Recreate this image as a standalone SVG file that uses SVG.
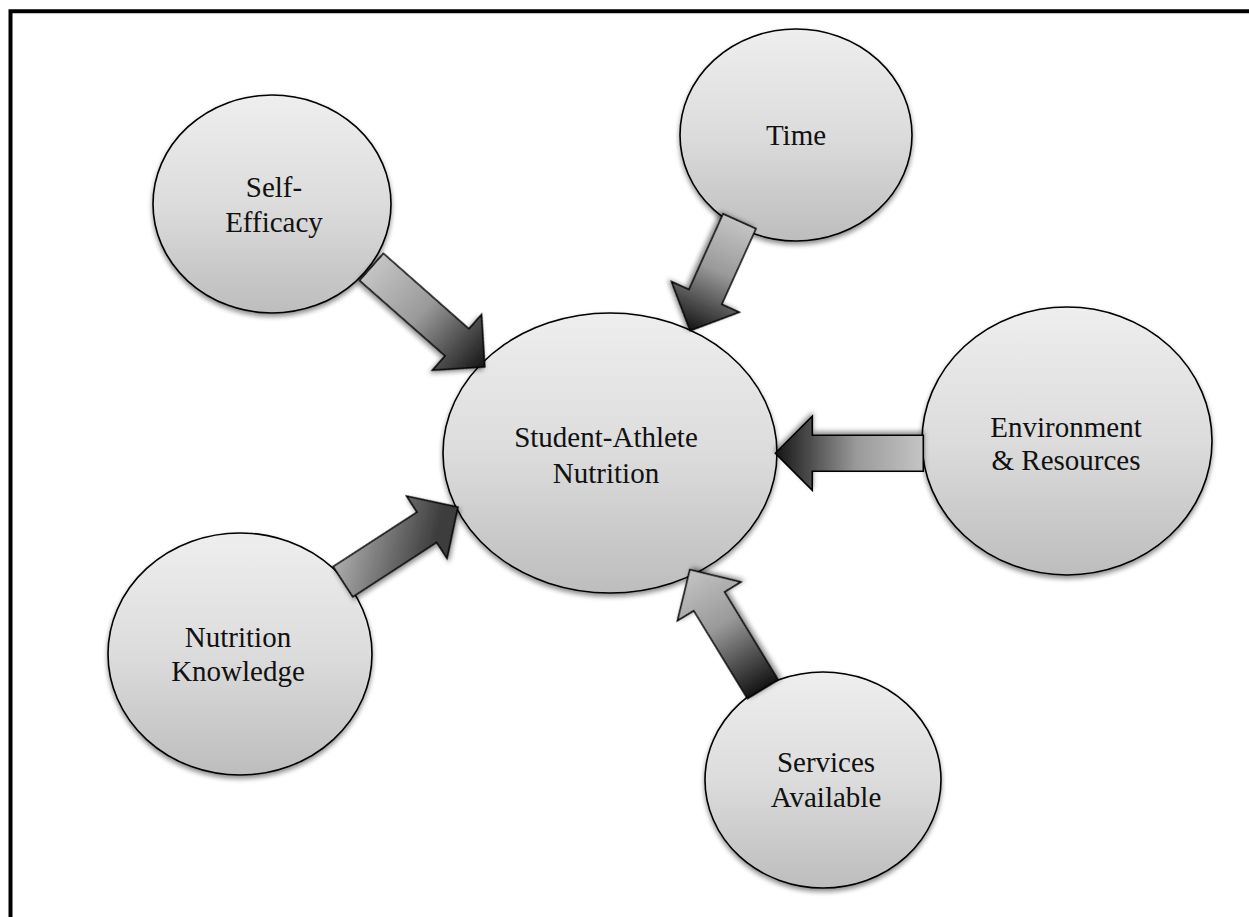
<svg xmlns="http://www.w3.org/2000/svg" width="1249" height="917" viewBox="0 0 1249 917">
  <defs>
    <linearGradient id="bubbleFill" x1="0" y1="0" x2="0" y2="1">
      <stop offset="0" stop-color="#eeeeee"/>
      <stop offset="0.5" stop-color="#dcdcdc"/>
      <stop offset="1" stop-color="#bdbdbd"/>
    </linearGradient>
    <!-- light tail, dark head -->
    <linearGradient id="arrowFwd" x1="0" y1="0" x2="1" y2="0">
      <stop offset="0" stop-color="#c4c4c4"/>
      <stop offset="0.45" stop-color="#9a9a9a"/>
      <stop offset="1" stop-color="#141414"/>
    </linearGradient>
    <!-- dark tail, light head -->
    <linearGradient id="arrowRev" x1="0" y1="0" x2="1" y2="0">
      <stop offset="0" stop-color="#141414"/>
      <stop offset="0.55" stop-color="#9a9a9a"/>
      <stop offset="1" stop-color="#c4c4c4"/>
    </linearGradient>
    <!-- shaded across the shaft -->
    <linearGradient id="arrowSide" gradientUnits="userSpaceOnUse" x1="0" y1="-30" x2="70" y2="45">
      <stop offset="0" stop-color="#b8b8b8"/>
      <stop offset="1" stop-color="#3c3c3c"/>
    </linearGradient>
    <filter id="shadow" x="-20%" y="-20%" width="140%" height="150%">
      <feGaussianBlur in="SourceAlpha" stdDeviation="2.5"/>
      <feOffset dx="0" dy="3" result="blur"/>
      <feComponentTransfer><feFuncA type="linear" slope="0.45"/></feComponentTransfer>
      <feMerge><feMergeNode/><feMergeNode in="SourceGraphic"/></feMerge>
    </filter>
  </defs>
  <style>
    .bubble { fill: url(#bubbleFill); stroke: #000; stroke-width: 1.6; filter: url(#shadow); }
    .label { font-family: "Liberation Serif", "Times New Roman", serif; font-size: 29px; fill: #111; text-anchor: middle; }
    .arrow { stroke: #000; stroke-width: 1.6; stroke-linejoin: miter; filter: url(#shadow); }
    .frame { fill: none; stroke: #000; stroke-width: 4; }
  </style>

  <rect width="1249" height="917" fill="#fff"/>
  <path class="frame" d="M10.5,917 V11.3 H1249"/>

  <g id="node-self-efficacy">
    <ellipse class="bubble" cx="272" cy="204" rx="119" ry="109"/>
    <text class="label" x="274" y="197">Self-</text>
    <text class="label" x="274" y="232">Efficacy</text>
  </g>

  <g id="node-time">
    <ellipse class="bubble" cx="796" cy="135" rx="116" ry="106"/>
    <text class="label" x="796" y="145">Time</text>
  </g>

  <g id="node-environment">
    <ellipse class="bubble" cx="1067" cy="441" rx="145" ry="134"/>
    <text class="label" x="1066" y="437">Environment</text>
    <text class="label" x="1066" y="470">&amp; Resources</text>
  </g>

  <g id="node-nutrition-knowledge">
    <ellipse class="bubble" cx="240" cy="654" rx="132" ry="121"/>
    <text class="label" x="238" y="647">Nutrition</text>
    <text class="label" x="238" y="681">Knowledge</text>
  </g>

  <g id="node-services">
    <ellipse class="bubble" cx="823" cy="780" rx="118" ry="108"/>
    <text class="label" x="826" y="772">Services</text>
    <text class="label" x="826" y="807">Available</text>
  </g>

  <g id="node-student-athlete">
    <ellipse class="bubble" cx="610" cy="453" rx="167" ry="140"/>
    <text class="label" x="606" y="447">Student-Athlete</text>
    <text class="label" x="606" y="483">Nutrition</text>
  </g>

  <g id="connectors">
    <!-- block arrows: tail centre at origin, pointing along +x -->
    <path class="arrow" fill="url(#arrowFwd)" transform="translate(371.5,267) rotate(41.4)"
          d="M0,-18 H114 V-37 L151,0 L114,37 V18 H0 Z"/>
    <path class="arrow" fill="url(#arrowFwd)" transform="translate(739.5,221.3) rotate(114.3)"
          d="M0,-18 H83 V-37 L120,0 L83,37 V18 H0 Z"/>
    <path class="arrow" fill="url(#arrowFwd)" transform="translate(923.3,453.3) rotate(180)"
          d="M0,-18 H111 V-37 L148,0 L111,37 V18 H0 Z"/>
    <path class="arrow" fill="url(#arrowSide)" transform="translate(343,581.7) rotate(-33)"
          d="M0,-18 H100 V-37 L137,0 L100,37 V18 H0 Z"/>
    <path class="arrow" fill="url(#arrowRev)" transform="translate(762.8,689.2) rotate(-121.4)"
          d="M0,-18 H103 V-37 L140,0 L103,37 V18 H0 Z"/>
  </g>
</svg>
